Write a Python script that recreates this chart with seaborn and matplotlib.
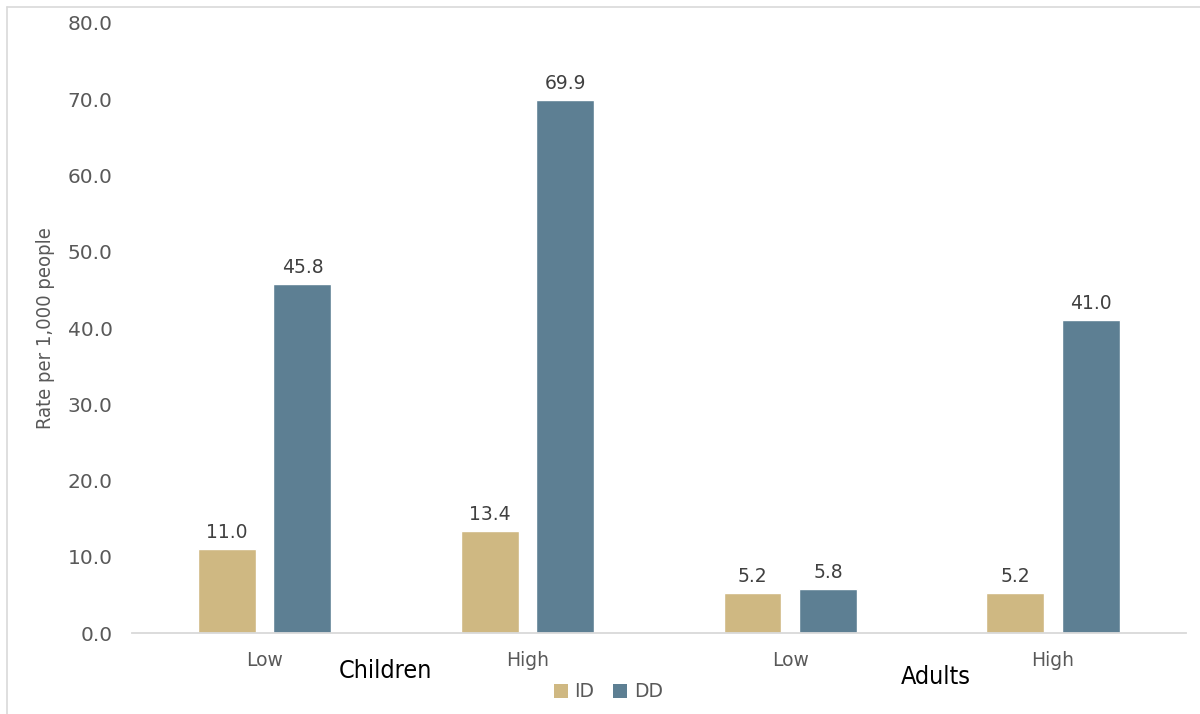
import matplotlib
matplotlib.use("Agg")
import matplotlib.pyplot as plt
from matplotlib.lines import Line2D
from matplotlib.patches import Patch
import seaborn as sns
import pandas as pd

# Data
groups = ["Children", "Children", "Adults", "Adults"]
levels = ["Low", "High", "Low", "High"]
id_rates = [11.0, 13.4, 5.2, 5.2]
dd_rates = [45.8, 69.9, 5.8, 41.0]
series = ["ID", "DD"]
colors = {"ID": "#CFB882", "DD": "#5D7F93"}
y_ticks = [0, 10, 20, 30, 40, 50, 60, 70, 80]

keys = [f"{g} {l}" for g, l in zip(groups, levels)]
df = pd.DataFrame({
    "key": keys * 2,
    "series": ["ID"] * 4 + ["DD"] * 4,
    "rate": id_rates + dd_rates,
})

sns.set_theme(style="white")
plt.rcParams["font.family"] = ["DejaVu Sans"]

fig = plt.figure(figsize=(12, 7.14), dpi=100)
ax = fig.add_axes([0.11, 0.1134, 0.878, 0.8544])

sns.barplot(data=df, x="key", y="rate", hue="series", order=keys,
            hue_order=series, palette=colors, width=0.574, gap=0.233,
            saturation=1, ax=ax, legend=False)

# Value labels
for cont in ax.containers:
    ax.bar_label(cont, labels=[f"{v:.1f}" for v in cont.datavalues],
                 padding=5, fontsize=13.5, color="#404040")

ax.set_xlim(-0.505, 3.505)
ax.set_ylim(0, 80)
ax.set_yticks(y_ticks)
ax.set_yticklabels([f"{v:.1f}" for v in y_ticks], fontsize=14.5, color="#595959")
ax.set_xticks(range(len(keys)))
ax.set_xticklabels(levels, fontsize=13.5, color="#595959")
ax.tick_params(axis="both", length=0)
ax.tick_params(axis="x", pad=13)
ax.tick_params(axis="y", pad=14)
ax.set_xlabel("")
ax.set_ylabel("Rate per 1,000 people", fontsize=14.5, color="#595959",
              fontstretch="condensed", labelpad=9)
for side in ["top", "right", "left"]:
    ax.spines[side].set_visible(False)
ax.spines["bottom"].set_color("#D9D9D9")
ax.spines["bottom"].set_linewidth(1.3)

# Group labels
ax.text(0.46, -0.062, "Children", transform=ax.get_xaxis_transform(),
        ha="center", va="center", fontsize=18, color="black",
        fontstretch="condensed")
ax.text(2.555, -0.072, "Adults", transform=ax.get_xaxis_transform(),
        ha="center", va="center", fontsize=18, color="black",
        fontstretch="condensed")

# Legend
handles = [Patch(facecolor=colors[s], edgecolor="none", label=s) for s in series]
fig.legend(handles=handles, loc="center", bbox_to_anchor=(0.507, 0.031),
           ncol=2, frameon=False, fontsize=13.5, handlelength=0.75,
           handleheight=0.75, handletextpad=0.35, columnspacing=1.0,
           labelcolor="#595959")

# Chart frame
fig.add_artist(Line2D([0.006, 0.006], [0, 0.99], transform=fig.transFigure,
                      color="#D9D9D9", lw=1.2))
fig.add_artist(Line2D([0.006, 1.0], [0.99, 0.99], transform=fig.transFigure,
                      color="#D9D9D9", lw=1.2))

fig.savefig("out.png", dpi=100)
